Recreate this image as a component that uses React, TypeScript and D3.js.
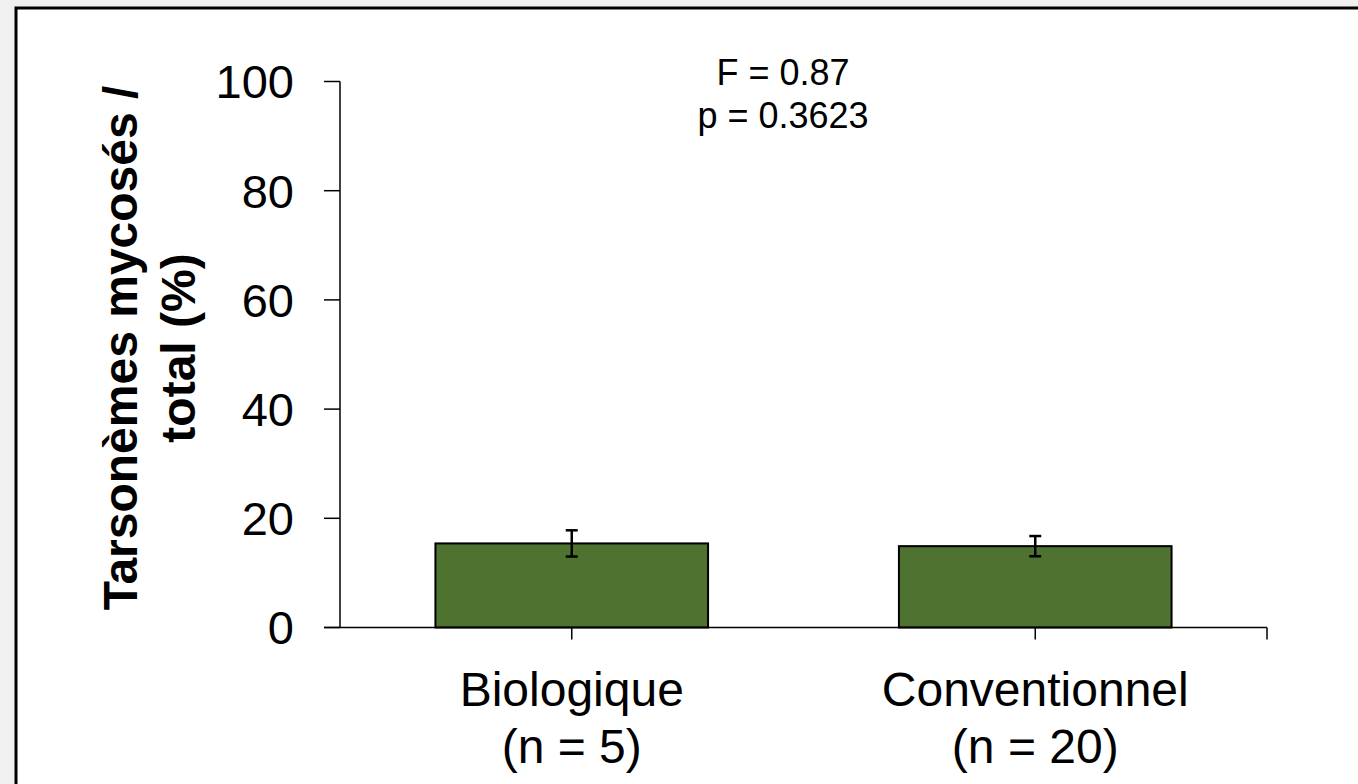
import React, { useEffect, useRef } from 'react';
import * as d3 from 'd3';

const categories = ['Biologique', 'Conventionnel'];
const sampleSizes = ['(n = 5)', '(n = 20)'];
const values = [15.4, 14.9];
const errors = [2.4, 1.85];
const yTicks = [0, 20, 40, 60, 80, 100];
const statLines = ['F = 0.87', 'p = 0.3623'];
const yLabelLines = ['Tarsonèmes mycosés /', 'total (%)'];

const App = () => {
  const svgRef = useRef<SVGSVGElement>(null);
  const width = 1358;
  const height = 784;
  const font = 'Liberation Sans, Arial, sans-serif';

  useEffect(() => {
    const svg = d3.select(svgRef.current);
    svg.selectAll('*').remove();

    // fond et cadre
    svg.append('rect')
      .attr('width', width)
      .attr('height', height)
      .attr('fill', '#f0f0f0');
    svg.append('rect')
      .attr('x', 16)
      .attr('y', 8)
      .attr('width', width + 20)
      .attr('height', height + 20)
      .attr('fill', '#ffffff')
      .attr('stroke', '#000000')
      .attr('stroke-width', 3);

    const left = 340;
    const right = 1267;
    const top = 81.5;
    const bottom = 627.5;

    const x = d3.scaleBand<string>()
      .domain(categories)
      .range([left, right])
      .padding(0);

    const y = d3.scaleLinear()
      .domain([0, 100])
      .range([bottom, top]);

    const barWidth = x.bandwidth() / 1.7;
    const center = (c: string) => (x(c) as number) + x.bandwidth() / 2;

    // barres
    svg.selectAll('.bar')
      .data(categories)
      .enter()
      .append('rect')
      .attr('class', 'bar')
      .attr('x', d => center(d) - barWidth / 2)
      .attr('y', (d, i) => y(values[i]))
      .attr('width', barWidth)
      .attr('height', (d, i) => y(0) - y(values[i]))
      .attr('fill', '#4e7230')
      .attr('stroke', '#000000')
      .attr('stroke-width', 2);

    // barres d'erreur
    categories.forEach((c, i) => {
      const cx = center(c);
      const g = svg.append('g')
        .attr('stroke', '#000000')
        .attr('stroke-width', 2.5);
      g.append('line')
        .attr('x1', cx).attr('x2', cx)
        .attr('y1', y(values[i] + errors[i]))
        .attr('y2', y(values[i] - errors[i]));
      [values[i] + errors[i], values[i] - errors[i]].forEach(v => {
        g.append('line')
          .attr('x1', cx - 6).attr('x2', cx + 6)
          .attr('y1', y(v)).attr('y2', y(v));
      });
    });

    // axe Y
    svg.append('line')
      .attr('x1', left).attr('x2', left)
      .attr('y1', top).attr('y2', bottom)
      .attr('stroke', '#000000')
      .attr('stroke-width', 1.5);

    svg.selectAll('.ytick')
      .data(yTicks)
      .enter()
      .append('line')
      .attr('x1', left - 16).attr('x2', left)
      .attr('y1', d => y(d)).attr('y2', d => y(d))
      .attr('stroke', '#000000')
      .attr('stroke-width', 1.5);

    svg.selectAll('.ylabel')
      .data(yTicks)
      .enter()
      .append('text')
      .attr('x', 294)
      .attr('y', d => y(d))
      .attr('dy', '0.36em')
      .attr('text-anchor', 'end')
      .attr('font-family', font)
      .attr('font-size', 47)
      .text(d => d);

    // axe X
    svg.append('line')
      .attr('x1', left - 16).attr('x2', right)
      .attr('y1', bottom).attr('y2', bottom)
      .attr('stroke', '#000000')
      .attr('stroke-width', 1.5);

    const xTickPos = categories.map(center).concat([right]);
    svg.selectAll('.xtick')
      .data(xTickPos)
      .enter()
      .append('line')
      .attr('x1', d => d).attr('x2', d => d)
      .attr('y1', bottom).attr('y2', bottom + 12)
      .attr('stroke', '#000000')
      .attr('stroke-width', 1.5);

    categories.forEach((c, i) => {
      const t = svg.append('text')
        .attr('x', center(c))
        .attr('y', 706)
        .attr('text-anchor', 'middle')
        .attr('font-family', font)
        .attr('font-size', 48);
      t.append('tspan').attr('x', center(c)).text(c);
      t.append('tspan').attr('x', center(c)).attr('dy', 57).text(sampleSizes[i]);
    });

    // titre axe Y
    const yl = svg.append('text')
      .attr('transform', 'translate(137,348) rotate(-90)')
      .attr('text-anchor', 'middle')
      .attr('font-family', font)
      .attr('font-weight', 'bold')
      .attr('font-size', 48);
    yLabelLines.forEach((l, i) => {
      yl.append('tspan').attr('x', 0).attr('dy', i === 0 ? 0 : 58).text(l);
    });

    // statistiques
    const st = svg.append('text')
      .attr('x', 783)
      .attr('y', 85)
      .attr('text-anchor', 'middle')
      .attr('font-family', font)
      .attr('font-size', 36);
    statLines.forEach((l, i) => {
      st.append('tspan').attr('x', 783).attr('dy', i === 0 ? 0 : 43).text(l);
    });
  }, []);

  return (
    <div style={{ position: 'absolute', left: 0, top: 0, width, height, overflow: 'hidden' }}>
      <svg ref={svgRef} width={width} height={height} style={{ display: 'block' }} />
    </div>
  );
};

export default App;
